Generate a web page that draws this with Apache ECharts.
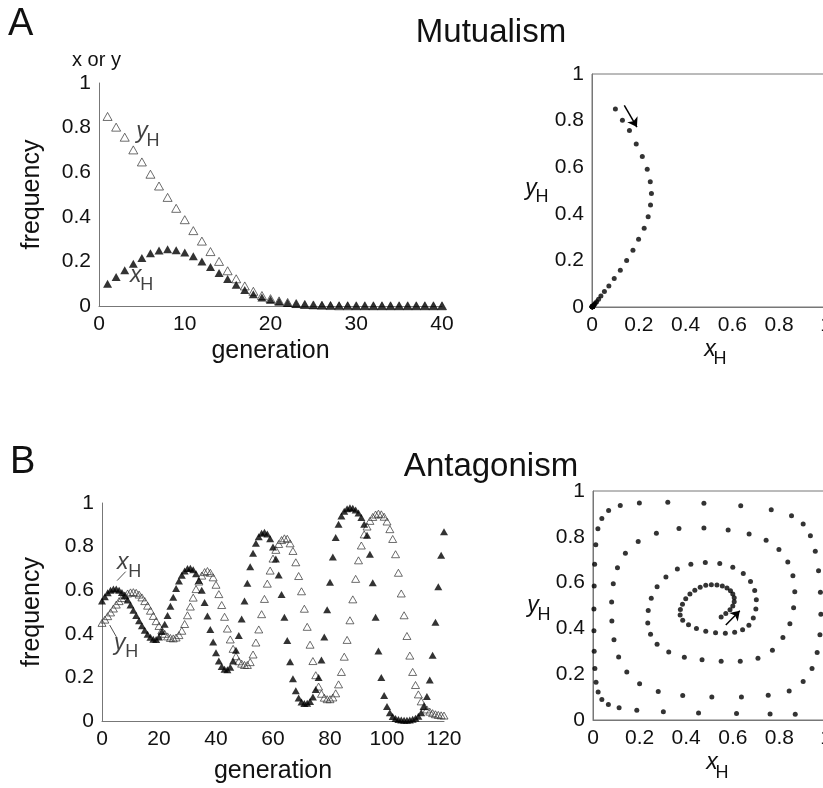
<!DOCTYPE html>
<html><head><meta charset="utf-8">
<script src="https://cdn.jsdelivr.net/npm/echarts@6/dist/echarts.min.js"></script>
<style>html,body{margin:0;padding:0;background:#fff}#c{width:823px;height:788px}</style>
</head><body><div id="c"></div>
<script>
// ---- Panel A (Mutualism) ----
const genA = [1,2,3,4,5,6,7,8,9,10,11,12,13,14,15,16,17,18,19,20,21,22,23,24,25,26,27,28,29,30,31,32,33,34,35,36,37,38,39,40];
const xA = [0.100,0.130,0.160,0.189,0.215,0.236,0.249,0.254,0.250,0.240,
            0.223,0.199,0.175,0.148,0.121,0.095,0.072,0.053,0.038,0.028,
            0.020,0.014,0.010,0.007,0.005,0.004,0.003,0.002,0.002,0.001,
            0.001,0.001,0.001,0.001,0.001,0.001,0.001,0.001,0.001,0.001];
const yA = [0.850,0.802,0.757,0.700,0.646,0.591,0.538,0.487,0.438,0.387,
            0.338,0.291,0.244,0.200,0.158,0.122,0.090,0.066,0.047,0.033,
            0.023,0.016,0.011,0.007,0.005,0.003,0.002,0.001,0.001,0.001,
            0.001,0.001,0.001,0.001,0.001,0.001,0.001,0.001,0.001,0.001];
// ---- Panel B (Antagonism) ----
const genB = [0,1,2,3,4,5,6,7,8,9,10,11,12,13,14,15,16,17,18,19,20,21,22,23,24,25,26,27,28,29,
  30,31,32,33,34,35,36,37,38,39,40,41,42,43,44,45,46,47,48,49,50,51,52,53,54,55,56,57,58,59,
  60,61,62,63,64,65,66,67,68,69,70,71,72,73,74,75,76,77,78,79,80,81,82,83,84,85,86,87,88,89,
  90,91,92,93,94,95,96,97,98,99,100,101,102,103,104,105,106,107,108,109,110,111,112,113,114,115,116,117,118,119,120];
const xB = [0.550,0.570,0.588,0.600,0.606,0.606,0.600,0.590,0.575,0.555,
  0.532,0.508,0.484,0.460,0.437,0.416,0.398,0.384,0.375,0.374,
  0.385,0.410,0.444,0.484,0.526,0.568,0.608,0.642,0.669,0.688,
  0.699,0.701,0.694,0.676,0.645,0.600,0.544,0.482,0.420,0.362,
  0.313,0.275,0.250,0.237,0.235,0.247,0.275,0.325,0.392,0.468,
  0.550,0.632,0.708,0.770,0.815,0.845,0.861,0.866,0.858,0.836,
  0.798,0.743,0.670,0.580,0.476,0.369,0.272,0.194,0.139,0.105,
  0.087,0.080,0.081,0.090,0.110,0.145,0.200,0.280,0.385,0.510,
  0.637,0.752,0.842,0.902,0.940,0.962,0.974,0.978,0.976,0.968,
  0.954,0.933,0.902,0.852,0.765,0.634,0.476,0.321,0.199,0.117,
  0.067,0.038,0.021,0.012,0.007,0.005,0.004,0.004,0.005,0.008,
  0.013,0.022,0.038,0.066,0.112,0.188,0.302,0.453,0.616,0.760,
  0.868];
const yB = [0.450,0.465,0.481,0.498,0.516,0.534,0.550,0.564,0.576,0.585,
  0.590,0.591,0.588,0.580,0.567,0.550,0.529,0.506,0.482,0.458,
  0.436,0.416,0.400,0.388,0.381,0.379,0.383,0.394,0.414,0.445,
  0.485,0.525,0.566,0.605,0.640,0.667,0.683,0.688,0.680,0.659,
  0.625,0.582,0.532,0.478,0.424,0.374,0.331,0.297,0.274,0.263,
  0.257,0.257,0.270,0.305,0.360,0.420,0.490,0.560,0.630,0.690,
  0.745,0.785,0.812,0.830,0.838,0.836,0.815,0.780,0.728,0.665,
  0.595,0.515,0.432,0.350,0.275,0.210,0.158,0.125,0.107,0.100,
  0.100,0.108,0.127,0.168,0.225,0.295,0.372,0.462,0.558,0.652,
  0.737,0.805,0.856,0.892,0.918,0.936,0.947,0.951,0.948,0.937,
  0.915,0.880,0.835,0.765,0.680,0.585,0.485,0.390,0.300,0.225,
  0.165,0.122,0.090,0.068,0.053,0.043,0.036,0.031,0.028,0.026,
  0.025];
// arrows in phase planes (data coords: [xH, yH])
const arrowA = [[0.138,0.865],[0.192,0.772]];
const arrowB = [[0.570,0.415],[0.630,0.477]];
// in-plot series labels: [letter, generation, value]
const labelsA = [['y',5.0,0.781],['x',4.3,0.135]];
const labelsB = [['x',7.3,0.725],['y',6.2,0.357]];
// leader lines in panel B time plot
const leadersB = [[[5.3,0.644],[8.3,0.685]],[[2.7,0.44],[5.05,0.386]]];

const FF = '"Liberation Sans", Arial, Helvetica, sans-serif';
const AX = '#777';
const chart = echarts.init(document.getElementById('c'), null, {renderer:'canvas'});

function valAxis(grid, min, max, interval, extra) {
  return Object.assign({
    gridIndex: grid, type: 'value', min: min, max: max, interval: interval,
    axisLine: {show: true, onZero: false, lineStyle: {color: AX, width: 1}},
    axisTick: {show: false},
    splitLine: {show: false},
    axisLabel: {fontSize: 21, color: '#111', fontFamily: FF, margin: 8},
    nameTextStyle: {fontSize: 25, color: '#111', fontFamily: FF}
  }, extra || {});
}
function annot(list, xi, yi, subOff) {
  const data = [];
  list.forEach(function (l) {
    data.push({value: [l[1], l[2]], label: {formatter: l[0], fontStyle: 'italic', fontSize: 23}});
    data.push({value: [l[1], l[2]], label: {formatter: 'H', fontSize: 18, offset: subOff}});
  });
  return {type: 'scatter', xAxisIndex: xi, yAxisIndex: yi, symbolSize: 1, silent: true, clip: false,
    itemStyle: {color: 'rgba(0,0,0,0)'},
    label: {show: true, position: 'inside', color: '#111', fontFamily: FF}, data: data, z: 10};
}
function gtext(text, x, y, font, align) {
  return {type: 'text', x: x, y: y, style: {text: text, font: font, fill: '#111',
    align: align || 'center', verticalAlign: 'middle', textAlign: align || 'center', textVerticalAlign: 'middle'}};
}

const option = {
  animation: false,
  backgroundColor: '#fff',
  textStyle: {fontFamily: FF},
  grid: [
    {left: 99, top: 83, width: 343, height: 223, outerBoundsMode: 'none', containLabel: false},
    {left: 592, top: 74, width: 234, height: 233, outerBoundsMode: 'none', containLabel: false,
     show: true, borderColor: AX, borderWidth: 1, backgroundColor: 'transparent'},
    {left: 102, top: 503, width: 342, height: 218, outerBoundsMode: 'none', containLabel: false},
    {left: 593, top: 491, width: 233, height: 229, outerBoundsMode: 'none', containLabel: false,
     show: true, borderColor: AX, borderWidth: 1, backgroundColor: 'transparent'}
  ],
  xAxis: [
    valAxis(0, 0, 40, 10, {name: 'generation', nameLocation: 'middle', nameGap: 33}),
    valAxis(1, 0, 1, 0.2),
    valAxis(2, 0, 120, 20, {name: 'generation', nameLocation: 'middle', nameGap: 38}),
    valAxis(3, 0, 1, 0.2)
  ],
  yAxis: [
    valAxis(0, 0, 1, 0.2, {name: 'frequency', nameLocation: 'middle', nameRotate: 90, nameGap: 54}),
    valAxis(1, 0, 1, 0.2),
    valAxis(2, 0, 1, 0.2, {name: 'frequency', nameLocation: 'middle', nameRotate: 90, nameGap: 57}),
    valAxis(3, 0, 1, 0.2)
  ],
  series: [
    {name: 'yH', type: 'scatter', xAxisIndex: 0, yAxisIndex: 0, symbol: 'triangle', symbolSize: [9, 8],
     itemStyle: {color: 'rgba(0,0,0,0)', borderColor: '#333', borderWidth: 0.9},
     data: genA.map(function (g, i) { return [g, yA[i]]; })},
    {name: 'xH', type: 'scatter', xAxisIndex: 0, yAxisIndex: 0, symbol: 'triangle', symbolSize: [9, 8],
     itemStyle: {color: '#000'},
     data: genA.map(function (g, i) { return [g, xA[i]]; })},
    {name: 'phaseA', type: 'scatter', xAxisIndex: 1, yAxisIndex: 1, symbol: 'circle', symbolSize: 5,
     itemStyle: {color: '#000'},
     data: genA.map(function (g, i) { return [xA[i], yA[i]]; })},
    {type: 'lines', coordinateSystem: 'cartesian2d', xAxisIndex: 1, yAxisIndex: 1,
     symbol: ['none', 'arrow'], symbolSize: 9, lineStyle: {color: '#000', width: 1.5, opacity: 1},
     data: [{coords: arrowA}]},
    {name: 'yH', type: 'scatter', xAxisIndex: 2, yAxisIndex: 2, symbol: 'triangle', symbolSize: [8, 7],
     itemStyle: {color: 'rgba(0,0,0,0)', borderColor: '#333', borderWidth: 0.9},
     data: genB.map(function (g, i) { return [g, yB[i]]; })},
    {name: 'xH', type: 'scatter', xAxisIndex: 2, yAxisIndex: 2, symbol: 'triangle', symbolSize: [8, 7],
     itemStyle: {color: '#000'},
     data: genB.map(function (g, i) { return [g, xB[i]]; })},
    {name: 'phaseB', type: 'scatter', xAxisIndex: 3, yAxisIndex: 3, symbol: 'circle', symbolSize: 5,
     itemStyle: {color: '#000'},
     data: genB.map(function (g, i) { return [xB[i], yB[i]]; })},
    {type: 'lines', coordinateSystem: 'cartesian2d', xAxisIndex: 3, yAxisIndex: 3,
     symbol: ['none', 'arrow'], symbolSize: 9, lineStyle: {color: '#000', width: 1.5, opacity: 1},
     data: [{coords: arrowB}]},
    {type: 'lines', coordinateSystem: 'cartesian2d', xAxisIndex: 2, yAxisIndex: 2,
     symbol: ['none', 'none'], lineStyle: {color: '#222', width: 0.8, opacity: 1},
     data: leadersB.map(function (c) { return {coords: c}; })},
    annot(labelsA, 0, 0, [11, 9]),
    annot(labelsB, 2, 2, [12, 9])
  ],
  graphic: [
    gtext('A', 8, 25, '38px ' + FF, 'left'),
    gtext('Mutualism', 491, 33, '33px ' + FF),
    gtext('x or y', 72, 60, '20px ' + FF, 'left'),
    gtext('B', 10, 463, '38px ' + FF, 'left'),
    gtext('Antagonism', 491, 467, '33px ' + FF),
    gtext('y', 531, 189, 'italic 23px ' + FF),
    gtext('H', 542, 197, '18px ' + FF),
    gtext('x', 710, 350, 'italic 23px ' + FF),
    gtext('H', 720, 359, '18px ' + FF),
    gtext('y', 533, 606, 'italic 23px ' + FF),
    gtext('H', 544, 615, '18px ' + FF),
    gtext('x', 712, 763, 'italic 23px ' + FF),
    gtext('H', 722, 773, '18px ' + FF)
  ]
};
chart.setOption(option);
</script>
</body></html>
